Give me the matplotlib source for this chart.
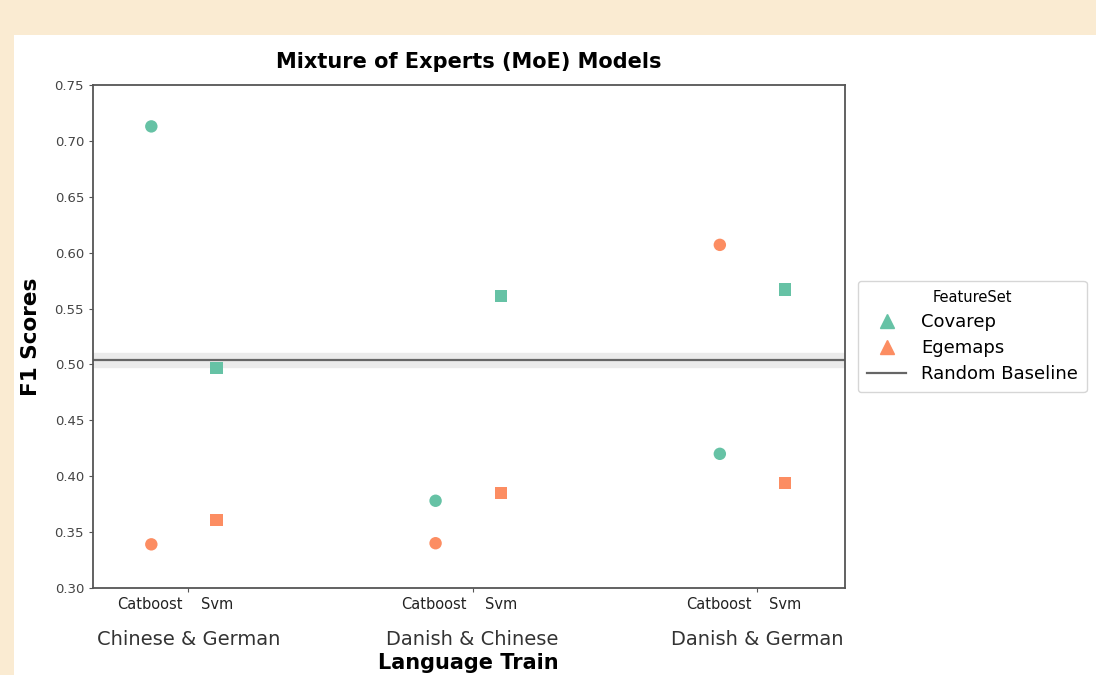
import numpy as np
import matplotlib.pyplot as plt
from matplotlib.patches import Rectangle
from matplotlib.lines import Line2D

# F1 scores per training-language pair, model and feature set
languages = ['Chinese & German', 'Danish & Chinese', 'Danish & German']
models = ['Catboost', 'Svm']
feature_sets = ['Covarep', 'Egemaps']

catboost_covarep = [0.713, 0.378, 0.420]
catboost_egemaps = [0.339, 0.340, 0.607]
svm_covarep = [0.497, 0.561, 0.567]
svm_egemaps = [0.361, 0.385, 0.394]

baseline = 0.504

colors = {'Covarep': '#66c2a5', 'Egemaps': '#fc8d62'}
markers = {'Catboost': 'o', 'Svm': 's'}
offsets = {'Catboost': -0.13, 'Svm': 0.10}

scores = {
    ('Catboost', 'Covarep'): catboost_covarep,
    ('Catboost', 'Egemaps'): catboost_egemaps,
    ('Svm', 'Covarep'): svm_covarep,
    ('Svm', 'Egemaps'): svm_egemaps,
}

fig = plt.figure(figsize=(10.96, 6.75), dpi=100)
fig.patch.set_facecolor('#faebd2')
fig.patches.append(Rectangle((0.0128, 0), 1, 0.948, transform=fig.transFigure,
                             facecolor='white', edgecolor='none', zorder=-10))

ax = fig.add_axes([0.0849, 0.129, 0.686, 0.745])
x = np.arange(len(languages))

# baseline with a soft band behind it
ax.axhspan(baseline - 0.006, baseline + 0.006, color='#ebebeb', zorder=1)
ax.axhline(baseline, color='#666666', lw=1.6, zorder=2)

for (model, fs), vals in scores.items():
    ax.scatter(x + offsets[model], vals, marker=markers[model], s=80,
               color=colors[fs], edgecolor='none', zorder=3)

ax.set_xlim(-0.335, 2.31)
ax.set_ylim(0.30, 0.75)
yt = np.arange(0.30, 0.751, 0.05)
ax.set_yticks(yt)
ax.set_yticklabels([f'{v:.2f}' for v in yt], fontsize=9.5, color='#444444')
ax.set_xticks(x)
ax.set_xticklabels([])
ax.tick_params(axis='both', length=3, color='#555555')

for s in ax.spines.values():
    s.set_color('#555555')
    s.set_linewidth(1.3)

# model names under each group, then the language pair
label_x = {'Catboost': -0.135, 'Svm': 0.10}
for xi, lang in zip(x, languages):
    for model in models:
        ax.text(xi + label_x[model], 0.292, model, ha='center', va='top',
                fontsize=10.5, color='#222222')
    ax.text(xi, 0.262, lang, ha='center', va='top', fontsize=14, color='#333333')

ax.set_title('Mixture of Experts (MoE) Models', fontsize=15, fontweight='bold', pad=12)
ax.set_ylabel('F1 Scores', fontsize=15.5, fontweight='bold', labelpad=10)
fig.text(0.427, 0.003, 'Language Train', ha='center', va='bottom',
         fontsize=15, fontweight='bold')

handles = [
    Line2D([], [], marker='^', linestyle='none', color=colors['Covarep'], markersize=10),
    Line2D([], [], marker='^', linestyle='none', color=colors['Egemaps'], markersize=10),
    Line2D([], [], color='#666666', lw=1.6),
]
leg = ax.legend(handles, ['Covarep', 'Egemaps', 'Random Baseline'], title='FeatureSet',
                loc='center left', bbox_to_anchor=(1.005, 0.5), fontsize=13,
                title_fontsize=10.5, frameon=True, handlelength=2.2,
                labelspacing=0.45, borderpad=0.5)
leg.get_frame().set_edgecolor('#cccccc')

fig.savefig('out.png', dpi=100, facecolor=fig.get_facecolor())
